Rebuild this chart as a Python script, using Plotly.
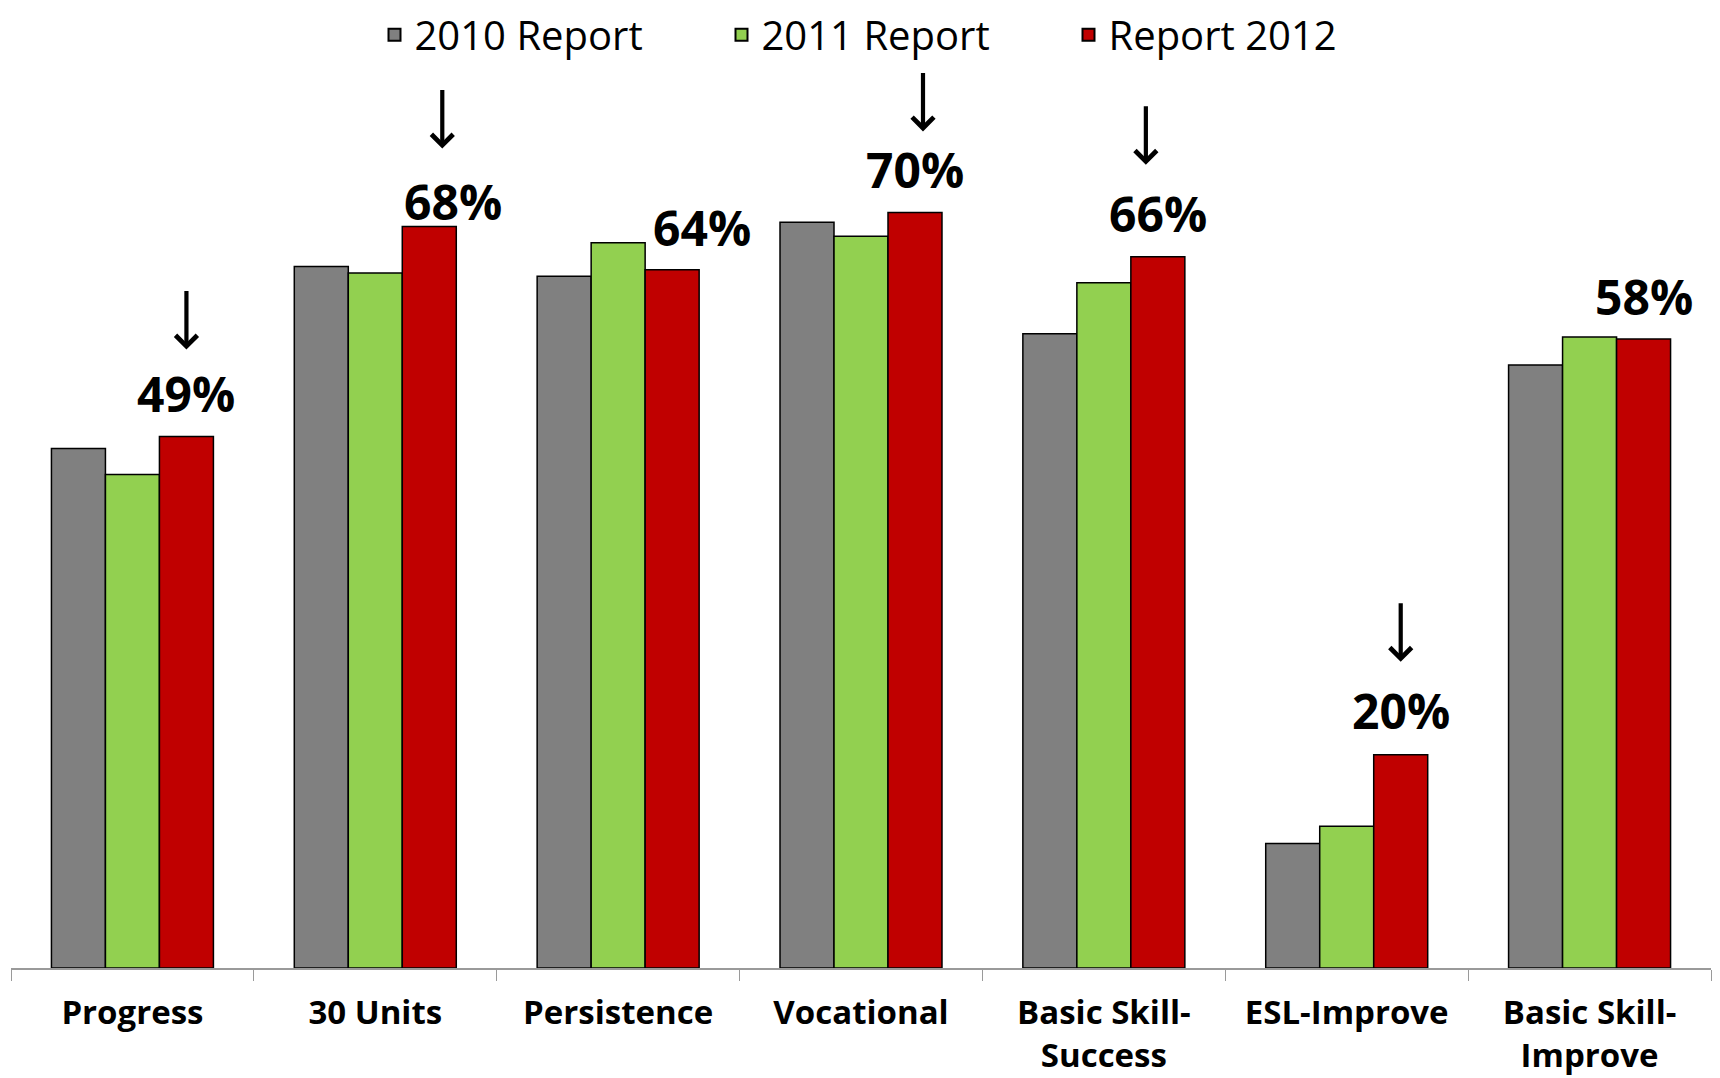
import plotly.graph_objects as go

categories = ["Progress", "30 Units", "Persistence", "Vocational",
              "Basic Skill-<br>Success", "ESL-Improve", "Basic Skill-<br>Improve"]
series_names = ["2010 Report", "2011 Report", "Report 2012"]
values_2010 = [48.0, 64.8, 63.9, 68.9, 58.6, 11.5, 55.7]
values_2011 = [45.6, 64.2, 67.0, 67.6, 63.3, 13.1, 58.3]
values_2012 = [49.1, 68.5, 64.5, 69.8, 65.7, 19.7, 58.1]
label_texts = ["49%", "68%", "64%", "70%", "66%", "20%", "58%"]
arrow_flags = [True, True, False, True, True, True, False]

colors = ["#808080", "#92D050", "#C00000"]

fig = go.Figure()
for name, vals, col in zip(series_names, [values_2010, values_2011, values_2012], colors):
    fig.add_trace(go.Bar(x=categories, y=vals, name=name,
                         marker=dict(color=col, line=dict(color="black", width=1.5))))

# label offsets (px): (xshift, yshift) relative to 2012 bar top
bar_off = 54
lab_off = [(0, 43), (24, 25), (30, 42), (0, 43), (0, 43), (0, 44), (0, 43)]
arr_off = [(0, 87), (13, 78), (0, 0), (8, 81), (-12, 92), (0, 93), (0, 0)]

for i, cat in enumerate(categories):
    xs, ys = lab_off[i]
    fig.add_annotation(x=cat, y=values_2012[i], xref="x", yref="y",
                       text=label_texts[i], showarrow=False,
                       xshift=bar_off + xs, yshift=ys, yanchor="middle",
                       font=dict(family="Open Sans", size=48, color="black", weight="bold"))
    if arrow_flags[i]:
        axs, ays = arr_off[i]
        fig.add_annotation(x=cat, y=values_2012[i], xref="x", yref="y",
                           text="", showarrow=True, arrowhead=4, arrowsize=1.0,
                           arrowwidth=4.2, arrowcolor="black", ax=0, ay=-60,
                           xshift=bar_off + axs, yshift=ays)

# the page body adds an 8px offset, so the figure is 8px smaller and margins compensate
fig.update_layout(
    width=1712, height=1070,
    margin=dict(l=3, r=9, t=94, b=110),
    paper_bgcolor="white", plot_bgcolor="white",
    barmode="group", bargap=0.333, bargroupgap=0,
    showlegend=True,
    legend=dict(orientation="h", x=0.52, xanchor="center",
                yref="container", y=0.975, yanchor="middle",
                font=dict(family="Open Sans", size=40, color="black"),
                entrywidth=302, itemsizing="constant"),
    xaxis=dict(showline=True, linecolor="#9a9a9a", linewidth=1.5, automargin=False,
               ticks="outside", tickson="boundaries", ticklen=11, tickcolor="#9a9a9a",
               tickwidth=1.2, ticklabelstandoff=15,
               tickfont=dict(family="Open Sans", size=33,
                             color="black", weight="bold"),
               showgrid=False),
    yaxis=dict(range=[0, 80], visible=False, showgrid=False, zeroline=False, automargin=False),
)

fig.write_html("out.html")
